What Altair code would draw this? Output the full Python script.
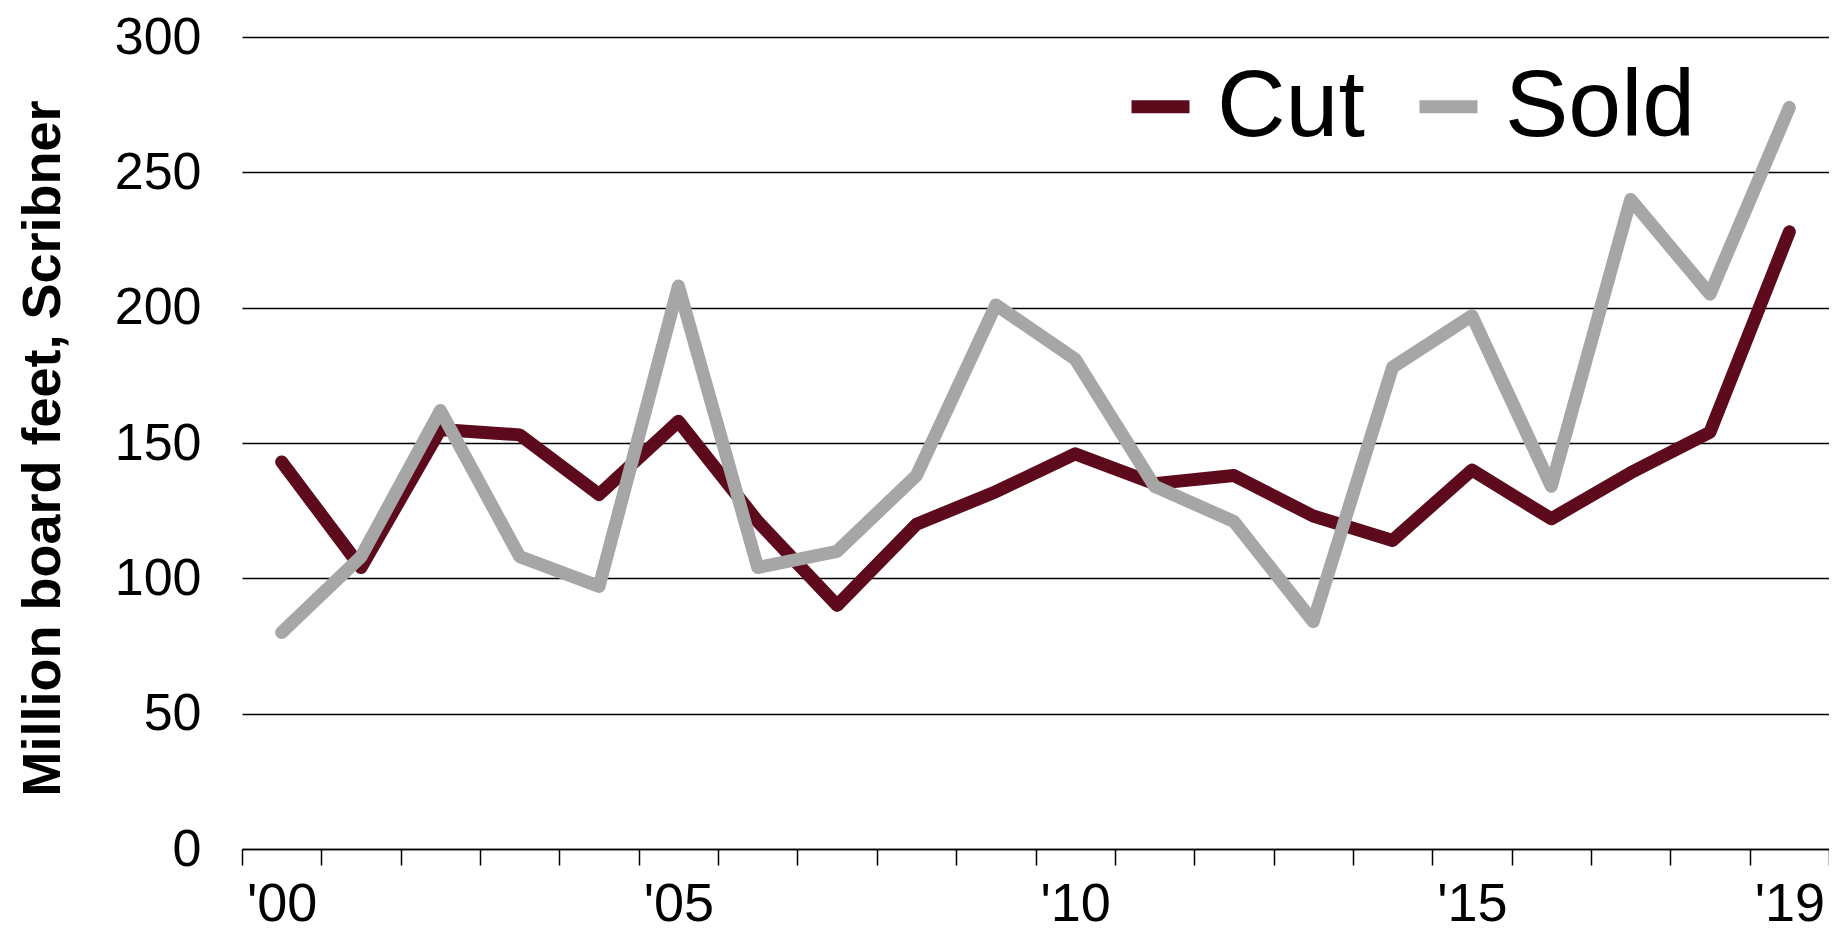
import altair as alt
import pandas as pd

years = [str(y) for y in range(2000, 2020)]
cut = [143, 104, 155, 153, 131, 158, 121, 90, 120, 132, 146, 135, 138, 123, 114, 140, 122, 139, 154, 228]
sold = [80, 108, 162, 108, 97, 208, 104, 110, 138, 201, 181, 134, 121, 84, 178, 197, 134, 240, 205, 274]
series = ["Cut", "Sold"]
colors = ["#5c0a1c", "#a6a6a6"]
y_ticks = [0, 50, 100, 150, 200, 250, 300]
x_labelled = ["2000", "2005", "2010", "2015", "2019"]

rows = []
for name, vals in zip(series, [cut, sold]):
    for yr, v in zip(years, vals):
        rows.append({"year": yr, "value": v, "series": name})
df = pd.DataFrame(rows)

label_list = "[" + ",".join("'" + s + "'" for s in x_labelled) + "]"
label_expr = f"indexof({label_list}, datum.value) >= 0 ? \"'\" + substring(datum.value, 2, 4) : ''"

chart = alt.Chart(df).mark_line(
    strokeWidth=13, strokeCap="round", strokeJoin="round"
).encode(
    x=alt.X(
        "year:N",
        sort=years,
        bandPosition=0.5,
        scale=alt.Scale(type="band", paddingInner=0, paddingOuter=0),
        axis=alt.Axis(
            title=None,
            tickBand="extent",
            labelExpr=label_expr,
            labelOverlap=False,
            labelAngle=0,
            labelFontSize=54,
            labelColor="black",
            labelPadding=12,
            tickSize=16,
            tickColor="black",
            tickWidth=1.5,
            domainColor="black",
            domainWidth=1.5,
            grid=False,
        ),
    ),
    y=alt.Y(
        "value:Q",
        scale=alt.Scale(domain=[0, 300], nice=False),
        axis=alt.Axis(
            title="Million board feet, Scribner",
            values=y_ticks,
            labelFontSize=52,
            labelColor="black",
            labelPadding=41,
            ticks=False,
            domain=False,
            grid=True,
            gridColor="black",
            gridWidth=1.3,
            titleFontSize=54,
            titleFontWeight="bold",
            titleColor="black",
            titleAngle=270,
            titleX=-199,
            titleY=411,
            titleAlign="center",
            titleBaseline="middle",
        ),
    ),
    color=alt.Color(
        "series:N",
        scale=alt.Scale(domain=series, range=colors),
        legend=alt.Legend(
            title=None,
            orient="none",
            legendX=871,
            legendY=22,
            direction="horizontal",
            symbolType="stroke",
            symbolSize=3364,
            symbolStrokeWidth=13,
            labelFontSize=95,
            labelColor="black",
            labelLimit=400,
            labelOffset=9,
            columnPadding=28,
            padding=0,
        ),
    ),
).properties(
    width=1587,
    height=812,
    autosize=alt.AutoSizeParams(type="none"),
    padding={"left": 234, "top": 29, "right": 0, "bottom": 81},
).configure(
    font="Liberation Sans",
).configure_view(
    stroke=None,
)

chart.save("out.html", embed_options={"renderer": "svg", "actions": False})
